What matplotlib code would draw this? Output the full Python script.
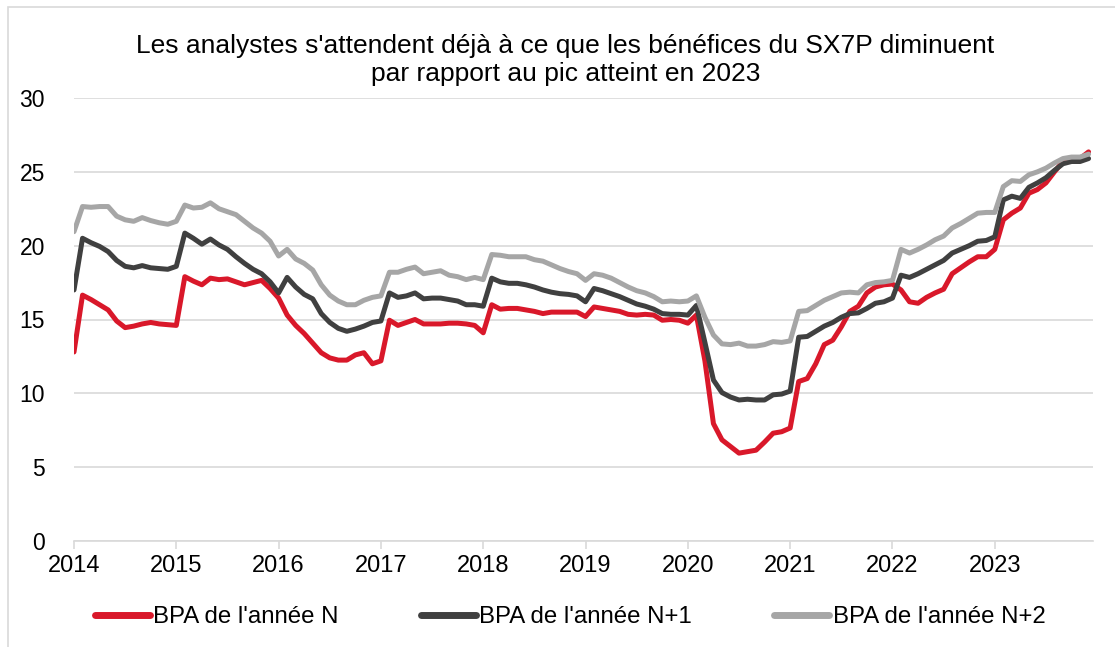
import numpy as np
import matplotlib
matplotlib.use('Agg')
import matplotlib.pyplot as plt
from matplotlib.patches import Rectangle

plt.rcParams['font.family'] = ['Liberation Sans', 'DejaVu Sans']

# Monthly EPS consensus, Jan 2014 -> Dec 2023
start_year = 2014
bpa_n = [12.8, 16.65, 16.35, 16.0, 15.65, 14.9, 14.45, 14.55, 14.7, 14.8, 14.7, 14.65,
         14.6, 17.9, 17.6, 17.35, 17.8, 17.7, 17.75, 17.55, 17.35, 17.5, 17.65, 17.1,
         16.45, 15.3, 14.6, 14.05, 13.4, 12.75, 12.4, 12.25, 12.25, 12.6, 12.75, 12.0,
         12.2, 14.95, 14.6, 14.8, 15.0, 14.7, 14.7, 14.7, 14.75, 14.75, 14.7, 14.6,
         14.1, 16.0, 15.7, 15.75, 15.75, 15.65, 15.55, 15.4, 15.5, 15.5, 15.5, 15.5,
         15.2, 15.85, 15.75, 15.65, 15.55, 15.35, 15.3, 15.35, 15.3, 14.95, 15.0, 14.95,
         14.75, 15.3, 12.2, 7.95, 6.85, 6.4, 5.95, 6.05, 6.15, 6.7, 7.3, 7.4,
         7.65, 10.8, 11.0, 12.0, 13.3, 13.6, 14.5, 15.55, 15.9, 16.8, 17.2, 17.35,
         17.4, 17.0, 16.2, 16.1, 16.5, 16.8, 17.05, 18.1, 18.5, 18.9, 19.25, 19.25,
         19.75, 21.75, 22.2, 22.55, 23.55, 23.8, 24.25, 25.0, 25.7, 25.8, 25.9, 26.35]
bpa_n1 = [17.0, 20.5, 20.2, 19.95, 19.6, 19.0, 18.6, 18.5, 18.65, 18.5, 18.45, 18.4,
          18.6, 20.85, 20.5, 20.1, 20.45, 20.05, 19.75, 19.25, 18.8, 18.4, 18.1, 17.55,
          16.8, 17.85, 17.2, 16.7, 16.4, 15.4, 14.8, 14.4, 14.2, 14.35, 14.55, 14.8,
          14.9, 16.8, 16.5, 16.6, 16.8, 16.4, 16.45, 16.45, 16.35, 16.25, 16.0, 16.0,
          15.9, 17.8, 17.55, 17.45, 17.45, 17.35, 17.2, 17.0, 16.85, 16.75, 16.7, 16.6,
          16.2, 17.1, 16.95, 16.75, 16.55, 16.3, 16.05, 15.9, 15.7, 15.4, 15.35, 15.35,
          15.3, 15.95, 13.45, 10.9, 10.05, 9.75, 9.55, 9.6, 9.55, 9.55, 9.9, 9.95,
          10.15, 13.8, 13.85, 14.2, 14.55, 14.8, 15.15, 15.4, 15.45, 15.75, 16.1, 16.2,
          16.45, 18.0, 17.85, 18.1, 18.4, 18.7, 19.0, 19.5, 19.75, 20.0, 20.3, 20.35,
          20.6, 23.1, 23.35, 23.2, 23.95, 24.25, 24.6, 25.1, 25.55, 25.7, 25.7, 25.9]
bpa_n2 = [20.95, 22.65, 22.6, 22.65, 22.65, 22.0, 21.75, 21.65, 21.9, 21.7, 21.55, 21.45,
          21.65, 22.75, 22.55, 22.6, 22.9, 22.5, 22.3, 22.1, 21.65, 21.2, 20.85, 20.3,
          19.3, 19.75, 19.1, 18.8, 18.35, 17.35, 16.65, 16.25, 16.0, 16.0, 16.3, 16.5,
          16.6, 18.2, 18.2, 18.4, 18.55, 18.1, 18.2, 18.3, 18.0, 17.9, 17.7, 17.85,
          17.7, 19.4, 19.35, 19.25, 19.25, 19.25, 19.05, 18.95, 18.7, 18.45, 18.25, 18.1,
          17.65, 18.1, 18.0, 17.8, 17.5, 17.2, 16.95, 16.8, 16.55, 16.2, 16.25, 16.2,
          16.25, 16.6, 15.15, 13.95, 13.35, 13.3, 13.4, 13.2, 13.2, 13.3, 13.5, 13.45,
          13.55, 15.55, 15.6, 15.95, 16.3, 16.55, 16.8, 16.85, 16.8, 17.35, 17.5, 17.55,
          17.65, 19.75, 19.5, 19.75, 20.05, 20.4, 20.65, 21.2, 21.5, 21.85, 22.2, 22.25,
          22.25, 24.0, 24.4, 24.35, 24.8, 25.0, 25.25, 25.6, 25.9, 26.0, 26.0, 26.2]
year_ticks = list(range(2014, 2024))
labels = ["BPA de l'année N", "BPA de l'année N+1", "BPA de l'année N+2"]
colors = ['#D9182A', '#404040', '#A6A6A6']

x = start_year + np.arange(len(bpa_n)) / 12

fig = plt.figure(figsize=(11.15, 6.47), dpi=100)
ax = fig.add_axes([74 / 1115, 1 - 541 / 647, (1093 - 74) / 1115, (541 - 98) / 647])

# frame around the chart
fig.patches.append(Rectangle((8 / 1115, -0.05), 1.1, 1.05 - 7 / 647, transform=fig.transFigure,
                             fill=False, edgecolor='#D9D9D9', linewidth=1.2))

for series, lab, col in zip([bpa_n, bpa_n1, bpa_n2], labels, colors):
    ax.plot(x, series, color=col, linewidth=3.6, label=lab,
            solid_joinstyle='round', solid_capstyle='round')

ax.set_xlim(2014, 2023.96)
ax.set_ylim(0, 30)
ax.set_yticks(range(0, 31, 5))
ax.set_xticks(year_ticks)
ax.set_xticklabels([str(y) for y in year_ticks])
ax.grid(axis='y', color='#D9D9D9', linewidth=1.2)
ax.set_axisbelow(True)
for s in ['left', 'right', 'top']:
    ax.spines[s].set_visible(False)
ax.spines['bottom'].set_color('#D9D9D9')
ax.spines['bottom'].set_linewidth(1.2)
ax.tick_params(axis='x', direction='out', length=6, width=1.2, color='#D9D9D9',
               labelsize=17, pad=4)
ax.tick_params(axis='y', length=0, labelsize=16.5, pad=21)

fig.text(0.507, 1 - 60 / 647,
         "Les analystes s'attendent déjà à ce que les bénéfices du SX7P diminuent\n"
         "par rapport au pic atteint en 2023",
         ha='center', va='center', fontsize=19, linespacing=1.2)

leg = fig.legend(loc='center', bbox_to_anchor=(570 / 1115, 1 - 617 / 647), ncol=3,
                 frameon=False, fontsize=17.3, handlelength=2.3, handletextpad=0.15,
                 columnspacing=3.4)
for line in leg.get_lines():
    line.set_linewidth(5)
    line.set_solid_capstyle('round')

plt.savefig('out.png', dpi=100)
